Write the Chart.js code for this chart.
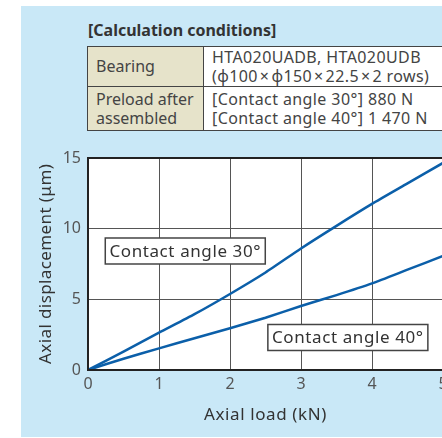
<!DOCTYPE html>
<html>
<head>
<meta charset="utf-8">
<script src="https://cdn.jsdelivr.net/npm/chart.js@4/dist/chart.umd.min.js"></script>
<style>
    body { margin: 0; background: #fff; width: 442px; height: 438px; overflow: hidden; position: relative; font-family: "Noto Sans", sans-serif; color: #333; }
    #panel { position: absolute; left: 21px; top: 6px; width: 440px; height: 431px; background: #c9e8f7; }
    #condTitle { position: absolute; left: 88px; top: 19px; font-size: 16px; font-weight: bold; color: #333; white-space: nowrap; }
    #cond { position: absolute; left: 87px; top: 46px; width: 400px; table-layout: fixed; border-collapse: collapse; font-size: 16px; line-height: 19px; color: #444; }
    #cond td { border: 1.5px solid #444; padding: 0 4px 0 8px; white-space: nowrap; vertical-align: middle; overflow: hidden; }
    #cond td.head { background: #e6e3ca; width: 103px; }
    #cond td.val { background: #fff; letter-spacing: 0.4px; }
    #cond tr.r1 td { height: 39px; }
    #cond tr.r2 td { height: 43px; }
    #wrap { position: absolute; left: 0; top: 140px; width: 470px; height: 298px; }
</style>
</head>
<body>
<div id="panel"></div>
<div id="condTitle">[Calculation conditions]</div>
<table id="cond">
    <tr class="r1"><td class="head">Bearing</td><td class="val">HTA020UADB, HTA020UDB<br>(&#x3D5;100&#x200A;&times;&#x200A;&#x3D5;150&#x200A;&times;&#x200A;22.5&#x200A;&times;&#x200A;2 rows)</td></tr>
    <tr class="r2"><td class="head">Preload after<br>assembled</td><td class="val">[Contact angle 30°] 880 N<br>[Contact angle 40°] 1 470 N</td></tr>
</table>
<div id="wrap"><canvas id="graph" width="470" height="298"></canvas></div>
<script>
const loads = [0, 0.5, 1, 1.5, 2, 2.5, 3, 3.5, 4, 4.5, 5]
const angle30 = [0, 1.3, 2.64, 3.95, 5.38, 6.9, 8.6, 10.2, 11.75, 13.2, 14.65]
const angle40 = [0, 0.8, 1.53, 2.25, 2.95, 3.7, 4.53, 5.3, 6.13, 7.1, 8.07]
const xTicks = [0, 1, 2, 3, 4, 5]
const yTicks = [0, 5, 10, 15]
const xTitle = "Axial load (kN)"
const yTitle = "Axial displacement (μm)"
const labelTexts = ["Contact angle 30°", "Contact angle 40°"]
const labelAt = [[1.37, 8.42], [3.66, 2.3]]

const lineColor = "#0b5fa9"

const plotFrame = {
    id: "plotFrame",
    beforeDraw(chart) {
        const { ctx, chartArea: a } = chart
        ctx.save()
        ctx.fillStyle = "#fff"
        ctx.fillRect(a.left, a.top, a.right - a.left, a.bottom - a.top)
        ctx.restore()
    },
    afterDatasetsDraw(chart) {
        const { ctx, chartArea: a } = chart
        ctx.save()
        ctx.strokeStyle = "#222"
        ctx.lineWidth = 2
        ctx.strokeRect(a.left, a.top, a.right - a.left, a.bottom - a.top)

        // axis titles
        ctx.font = "17px 'Noto Sans'"
        ctx.letterSpacing = "0.6px"
        ctx.fillStyle = "#333"
        ctx.textAlign = "center"
        ctx.textBaseline = "middle"
        ctx.fillText(xTitle, (a.left + a.right) / 2, 275)
        ctx.save()
        ctx.translate(46, a.bottom - 6)
        ctx.rotate(-Math.PI / 2)
        ctx.textAlign = "left"
        ctx.letterSpacing = "0.4px"
        ctx.fillText(yTitle, 0, 0)
        ctx.restore()

        // boxed labels
        ctx.letterSpacing = "0.6px"
        for (let i = 0; i < labelTexts.length; i++) {
            const cx = chart.scales.x.getPixelForValue(labelAt[i][0])
            const cy = chart.scales.y.getPixelForValue(labelAt[i][1])
            const w = 160
            const h = 26
            ctx.fillStyle = "#fff"
            ctx.fillRect(cx - w / 2, cy - h / 2, w, h)
            ctx.strokeStyle = "#444"
            ctx.lineWidth = 1.5
            ctx.strokeRect(cx - w / 2, cy - h / 2, w, h)
            ctx.fillStyle = "#333"
            ctx.fillText(labelTexts[i], cx, cy + 1)
        }
        ctx.restore()
    },
}

const chartID = document.getElementById("graph").getContext("2d")
const graphic = new Chart(chartID, {
    type: "line",
    data: {
        datasets: [
            {
                label: labelTexts[0],
                data: loads.map((x, i) => ({ x: x, y: angle30[i] })),
                borderColor: lineColor,
                borderWidth: 2.5,
                pointRadius: 0,
                tension: 0.2,
            },
            {
                label: labelTexts[1],
                data: loads.map((x, i) => ({ x: x, y: angle40[i] })),
                borderColor: lineColor,
                borderWidth: 2.5,
                pointRadius: 0,
                tension: 0.2,
            },
        ],
    },
    options: {
        animation: false,
        responsive: false,
        layout: { padding: { top: 18, right: 27, left: 0, bottom: 0 } },
        plugins: { legend: { display: false }, tooltip: { enabled: false } },
        scales: {
            x: {
                type: "linear",
                min: 0,
                max: 5,
                afterFit(scale) { scale.height = 68 },
                afterBuildTicks(scale) { scale.ticks = xTicks.map((v) => ({ value: v })) },
                grid: { color: "#555", lineWidth: 1, drawTicks: false },
                border: { display: false },
                ticks: { color: "#555", font: { family: "Noto Sans", size: 16 }, padding: 5, maxRotation: 0 },
            },
            y: {
                min: 0,
                max: 15,
                afterFit(scale) { scale.width = 88 },
                afterBuildTicks(scale) { scale.ticks = yTicks.map((v) => ({ value: v })) },
                grid: { color: "#555", lineWidth: 1, drawTicks: false },
                border: { display: false },
                ticks: { color: "#555", font: { family: "Noto Sans", size: 16 }, padding: 7 },
            },
        },
    },
    plugins: [plotFrame],
})
</script>
</body>
</html>
